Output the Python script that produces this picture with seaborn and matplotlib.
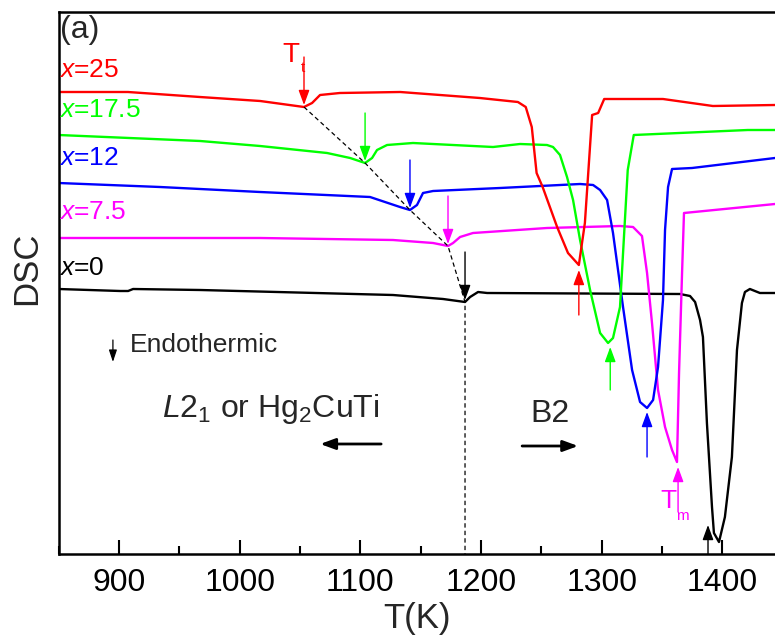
import numpy as np
import pandas as pd
import matplotlib
matplotlib.use("Agg")
import matplotlib.pyplot as plt
import seaborn as sns

# ---- DSC traces (temperature in K, signal in arbitrary units incl. vertical offset) ----
T_x0 = [850, 901, 907.6, 911.7, 967.3, 1127, 1168.5, 1186.7, 1190.9, 1197.5, 1205, 1364.8,
        1373.1, 1377.3, 1381.4, 1383.8, 1387.1, 1391.3, 1392.9, 1397.1, 1402, 1407.8, 1412,
        1416.1, 1418.6, 1422.7, 1431, 1443.5]
D_x0 = [265, 263, 263, 265, 264, 259, 255, 252, 257, 262, 261, 260,
        258, 252, 234, 217, 131, 47, 21, 12, 37, 97, 204,
        251, 262, 265, 261, 261]

T_x7 = [850, 1016.9, 1127, 1160.2, 1172.6, 1176.8, 1182.6, 1193.3, 1254.6, 1315.1, 1325.9,
        1333.3, 1337.5, 1341.6, 1346.6, 1352.4, 1358.2, 1362.3, 1364, 1366.5, 1368.1, 1443.5]
D_x7 = [316, 316, 314, 311, 308, 311, 317, 321, 326, 328, 327,
        318, 281, 231, 164, 127, 104, 92, 181, 281, 341, 350]

T_x12 = [850, 934, 1016.9, 1108, 1132.8, 1141.1, 1146.9, 1151.9, 1160.2, 1215.7, 1282,
         1292.8, 1298.6, 1304.4, 1309.3, 1317.6, 1325.1, 1331.7, 1337.5, 1342.5, 1346.6,
         1350.7, 1352.4, 1354.9, 1358.2, 1374.8, 1443.5]
D_x12 = [371, 367, 362, 357, 347, 344, 349, 361, 363, 366, 370,
         369, 364, 354, 321, 247, 184, 152, 146, 154, 187,
         254, 324, 367, 385, 386, 396]

T_x17 = [850, 967.3, 1016.9, 1072.4, 1091.5, 1103.9, 1109.7, 1113.8, 1122.1, 1143.6, 1209.9,
         1232.3, 1254.6, 1259.6, 1265.4, 1271.2, 1276.2, 1282, 1290.3, 1298.6, 1305.2,
         1309.3, 1315.1, 1321.5, 1326.5, 1420.9, 1443.5]
D_x17 = [419, 413, 408, 401, 396, 391, 396, 404, 409, 411, 407,
         410, 409, 407, 399, 377, 354, 314, 264, 221, 211,
         216, 247, 384, 419, 424, 424]

T_x25 = [850, 907.5, 967, 1017, 1053.3, 1060, 1066.6, 1083, 1133, 1199, 1230.5, 1237, 1242,
         1246, 1251, 1263, 1272, 1281, 1286, 1292, 1297, 1302, 1350.7, 1392, 1443.5]
D_x25 = [462, 462, 457, 453, 447, 451, 459, 461, 462, 456, 452, 447, 427,
         381, 367, 327, 301, 289, 331, 439, 441, 455, 455, 448, 449]

compositions = ["0", "7.5", "12", "17.5", "25"]
colors = ["#000000", "#ff00ff", "#0000ff", "#00ff00", "#ff0000"]
label_y = [279, 335, 389, 437, 477]

# transition (Tt) and melting (Tm) markers: (T, signal at the feature)
Tt_T = [1186.7, 1172.6, 1141.1, 1103.9, 1053.3]
Tt_D = [252, 308, 344, 391, 447]
Tm_T = [1388, 1363.2, 1337.5, 1307, 1281]
Tm_D = [29, 87, 142, 207, 284]

curves = [(T_x0, D_x0), (T_x7, D_x7), (T_x12, D_x12), (T_x17, D_x17), (T_x25, D_x25)]
frames = []
for comp, (t, d) in zip(compositions, curves):
    frames.append(pd.DataFrame({"T": t, "DSC": d, "comp": comp}))
df = pd.concat(frames, ignore_index=True)

sns.set_theme(style="ticks")
plt.rcParams["font.family"] = ["Liberation Sans", "DejaVu Sans"]
plt.rcParams["mathtext.fontset"] = "custom"
plt.rcParams["mathtext.rm"] = "Liberation Sans"
plt.rcParams["mathtext.it"] = "Liberation Sans:italic"
plt.rcParams["mathtext.bf"] = "Liberation Sans:bold"

fig = plt.figure(figsize=(7.75, 6.35), dpi=100)
ax = fig.add_axes([58.6 / 775, 81 / 635, 1 - 58.6 / 775, 542 / 635])

sns.lineplot(data=df, x="T", y="DSC", hue="comp", hue_order=compositions,
             palette=colors, estimator=None, sort=False, lw=1.7, legend=False, ax=ax)

# dashed guide through the Tt minima, then straight down to the axis
ax.plot(Tt_T[::-1] + [Tt_T[0]], Tt_D[::-1] + [0], ls=(0, (3.5, 2.5)), color="black", lw=0.9)

# composition labels
for comp, c, y in zip(compositions, colors, label_y):
    ax.text(850.5, y, r"$\mathit{x}$=" + comp, color=c, fontsize=19, ha="left", va="baseline")

# Tt arrows (pointing down onto the dip)
for t, d, c in zip(Tt_T, Tt_D, colors):
    ax.annotate("", xy=(t, d + 2), xytext=(t, d + 50),
                arrowprops=dict(arrowstyle="-|>,head_length=0.6,head_width=0.22",
                                mutation_scale=15, color=c, lw=1, shrinkA=0, shrinkB=0))

# Tm arrows (pointing up onto the melting peak)
Tm_len = [29, 45, 45, 43, 45]
for t, d, c, L in zip(Tm_T, Tm_D, colors, Tm_len):
    ax.annotate("", xy=(t, d), xytext=(t, d - L),
                arrowprops=dict(arrowstyle="-|>,head_length=0.6,head_width=0.22",
                                mutation_scale=15, color=c, lw=1, shrinkA=0, shrinkB=0))

ax.text(1035, 492, "T", color="#ff0000", fontsize=20, ha="left", va="baseline")
ax.text(1050.5, 482, "t", color="#ff0000", fontsize=11, ha="left", va="baseline")
ax.text(1348.4, 46, "T", color="#ff00ff", fontsize=19, ha="left", va="baseline")
ax.text(1361.5, 34, "m", color="#ff00ff", fontsize=11, ha="left", va="baseline")

ax.text(851.2, 539, "(a)", fontsize=23, ha="left", va="top")

# endothermic direction
ax.annotate("", xy=(895, 192), xytext=(895, 214),
            arrowprops=dict(arrowstyle="-|>,head_length=0.6,head_width=0.2",
                            mutation_scale=12, color="black", lw=0.9, shrinkA=0, shrinkB=0))
ax.text(909, 202, "Endothermic", fontsize=19, ha="left", va="baseline")

# phase labels
ax.text(935.7, 137, r"$\mathit{L}$2$_\mathregular{1}$ or Hg$_\mathregular{2}$CuTi",
        fontsize=23, ha="left", va="baseline")
ax.annotate("", xy=(1066.7, 110), xytext=(1117.2, 110),
            arrowprops=dict(arrowstyle="-|>,head_length=0.6,head_width=0.22",
                            mutation_scale=15, color="black", lw=2, shrinkA=0, shrinkB=0))
ax.text(1240.6, 132, "B2", fontsize=23, ha="left", va="baseline")
ax.annotate("", xy=(1280.4, 108), xytext=(1234, 108),
            arrowprops=dict(arrowstyle="-|>,head_length=0.6,head_width=0.22",
                            mutation_scale=15, color="black", lw=2, shrinkA=0, shrinkB=0))

ax.set_xlim(850, 1443.5)
ax.set_ylim(0, 542)
ax.set_xticks([900, 1000, 1100, 1200, 1300, 1400])
ax.set_xticks(np.arange(850, 1450, 50), minor=True)
ax.set_yticks([])
ax.tick_params(axis="x", which="major", direction="in", length=10, width=1.5,
               labelsize=23, pad=10, color="black", labelcolor="black")
ax.tick_params(axis="x", which="minor", direction="in", length=6, width=1.5, color="black")
for side in ["left", "bottom", "top"]:
    ax.spines[side].set_linewidth(1.8)
    ax.spines[side].set_color("black")
ax.spines["right"].set_visible(False)

ax.set_xlabel("T(K)", fontsize=25, labelpad=3)
ax.set_ylabel("DSC", fontsize=25)
ax.yaxis.set_label_coords(-0.022, 0.528)

fig.savefig("out.png", dpi=100)
